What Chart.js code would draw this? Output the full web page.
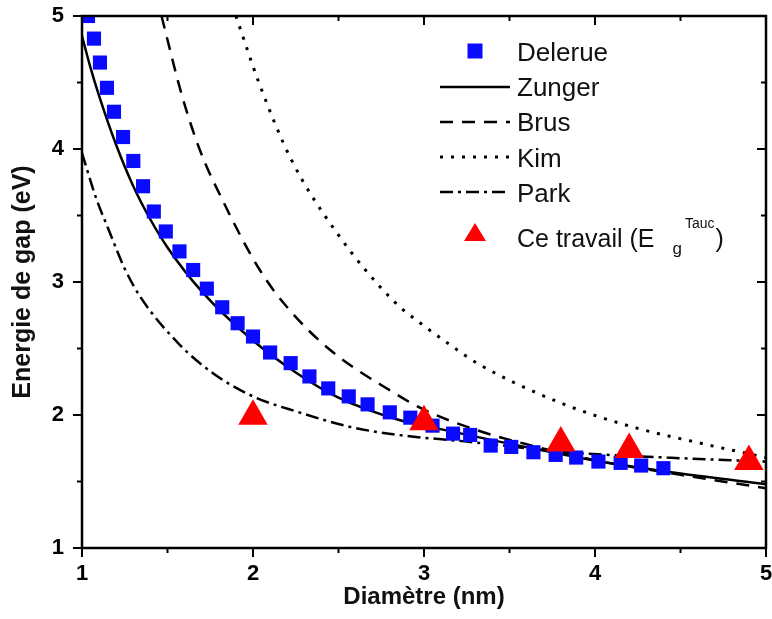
<!DOCTYPE html>
<html><head><meta charset="utf-8">
<script src="https://cdn.jsdelivr.net/npm/chart.js@4.4.1/dist/chart.umd.min.js"></script>
<style>html,body{margin:0;padding:0;background:#fff}#wrap{width:772px;height:619px}</style>
</head><body><div id="wrap"><canvas id="c" width="772" height="619"></canvas></div>
<script>
// ---- data ----
const xTickValues = [1, 1.5, 2, 2.5, 3, 3.5, 4, 4.5, 5];
const yTickValues = [1, 1.5, 2, 2.5, 3, 3.5, 4, 4.5, 5];

const delerueX = [1.035,1.07,1.105,1.146,1.187,1.24,1.30,1.357,1.42,1.49,1.57,1.65,1.73,1.82,1.91,2.0,2.10,2.22,2.33,2.44,2.56,2.67,2.80,2.92,3.05,3.17,3.27,3.39,3.51,3.64,3.77,3.89,4.02,4.15,4.27,4.40];
const delerueY = [5.0,4.83,4.65,4.46,4.28,4.09,3.91,3.72,3.53,3.38,3.23,3.09,2.95,2.81,2.69,2.59,2.47,2.39,2.29,2.20,2.14,2.08,2.02,1.98,1.92,1.86,1.85,1.77,1.76,1.72,1.70,1.68,1.65,1.64,1.62,1.60];

const zungerX = [1.0,1.05,1.1,1.2,1.3,1.4,1.5,1.7,2.0,2.25,2.5,2.86,3.0,3.44,4.03,4.5,5.0];
const zungerY = [4.85,4.61,4.40,4.03,3.72,3.47,3.26,2.93,2.56,2.32,2.13,1.96,1.92,1.80,1.65,1.56,1.48];

const brusX = [1.465,1.585,1.69,1.82,2.04,2.2,2.45,2.82,3.0,3.3,3.6,4.0,4.5,5.0];
const brusY = [5.0,4.40,3.99,3.62,3.09,2.81,2.49,2.17,2.04,1.89,1.78,1.66,1.55,1.45];

const kimX = [1.9,2.04,2.22,2.49,2.82,3.0,3.15,3.31,3.8,4.22,4.61,5.0];
const kimY = [5.0,4.48,3.93,3.37,2.86,2.67,2.53,2.39,2.09,1.91,1.79,1.68];

const parkX = [1.0,1.08,1.16,1.25,1.34,1.57,1.77,2.0,2.27,2.57,2.85,3.25,3.84,4.42,5.0];
const parkY = [3.97,3.64,3.38,3.10,2.89,2.53,2.31,2.14,2.02,1.91,1.85,1.80,1.72,1.68,1.65];

const travailX = [2.0,3.0,3.8,4.2,4.9];
const travailY = [1.99,1.95,1.79,1.74,1.65];

const seriesLabels = ['Delerue','Zunger','Brus','Kim','Park','Ce travail (Eg Tauc)'];
const xTitle = 'Diamètre (nm)';
const yTitle = 'Energie de gap (eV)';

// ---- build ----
const pts = (xs, ys) => xs.map((x, i) => ({x, y: ys[i]}));
const FONT = 'Liberation Sans, Arial, sans-serif';

function lineDs(label, xs, ys, dash, lw) {
  return {label, data: pts(xs, ys), showLine: true, borderColor: '#000', borderWidth: lw || 2.5,
    borderDash: dash, pointRadius: 0, pointHoverRadius: 0, fill: false,
    cubicInterpolationMode: 'monotone', order: 2, legendKind: 'line'};
}

const datasets = [
  {label: seriesLabels[0], data: pts(delerueX, delerueY), pointStyle: 'rect', pointRadius: 10,
   backgroundColor: '#0a0aff', borderColor: '#0a0aff', pointBorderWidth: 0, showLine: false, order: 1,
   clip: 0, legendKind: 'rect'},
  lineDs(seriesLabels[1], zungerX, zungerY, []),
  lineDs(seriesLabels[2], brusX, brusY, [13, 9]),
  lineDs(seriesLabels[3], kimX, kimY, [3, 8], 3),
  lineDs(seriesLabels[4], parkX, parkY, [13, 5, 3, 5]),
  {label: seriesLabels[5], data: pts(travailX, travailY), pointStyle: 'triangle', pointRadius: 17,
   backgroundColor: '#ff0000', borderColor: '#ff0000', pointBorderWidth: 0, showLine: false, order: 0,
   legendKind: 'triangle'}
];

const framePlugin = {
  id: 'frame',
  afterDatasetsDraw(chart) {
    const {ctx, chartArea: a, scales: {x, y}} = chart;
    ctx.save();
    ctx.strokeStyle = '#000';
    ctx.lineWidth = 2.5;
    ctx.strokeRect(a.left, a.top, a.right - a.left, a.bottom - a.top);
    ctx.lineWidth = 2;
    const seg = (x1, y1, x2, y2) => { ctx.beginPath(); ctx.moveTo(x1, y1); ctx.lineTo(x2, y2); ctx.stroke(); };
    xTickValues.forEach(v => {
      const L = Number.isInteger(v) ? 9 : 5;
      const px = x.getPixelForValue(v);
      seg(px, a.bottom, px, a.bottom + L);
      seg(px, a.top, px, a.top + L);
    });
    yTickValues.forEach(v => {
      const L = Number.isInteger(v) ? 9 : 5;
      const py = y.getPixelForValue(v);
      seg(a.left - L, py, a.left, py);
      seg(a.right - L, py, a.right, py);
    });
    ctx.restore();
  }
};

const legendPlugin = {
  id: 'customLegend',
  afterDraw(chart) {
    const ctx = chart.ctx;
    const symX = 475, txtX = 517;
    const rows = [61, 96, 131, 167, 202, 247];
    const symY = [51, 87, 122, 157, 192, 233];
    ctx.save();
    chart.data.datasets.forEach((ds, i) => {
      const sy = symY[i];
      if (ds.legendKind === 'rect') {
        ctx.fillStyle = ds.backgroundColor;
        ctx.fillRect(symX - 7.5, sy - 7.5, 15, 15);
      } else if (ds.legendKind === 'triangle') {
        ctx.fillStyle = ds.backgroundColor;
        ctx.beginPath();
        ctx.moveTo(symX, sy - 10); ctx.lineTo(symX + 11, sy + 8); ctx.lineTo(symX - 11, sy + 8);
        ctx.closePath(); ctx.fill();
      } else {
        ctx.strokeStyle = ds.borderColor; ctx.lineWidth = ds.borderWidth;
        ctx.setLineDash(ds.borderDash || []);
        ctx.beginPath(); ctx.moveTo(440, sy); ctx.lineTo(510, sy); ctx.stroke();
        ctx.setLineDash([]);
      }
      ctx.fillStyle = '#111';
      ctx.textBaseline = 'alphabetic';
      ctx.textAlign = 'left';
      const by = rows[i];
      if (i === 5) {
        ctx.font = '25px ' + FONT;
        const main = 'Ce travail (E';
        ctx.fillText(main, txtX, by);
        let cx = txtX + ctx.measureText(main).width + 18;
        ctx.font = '17px ' + FONT;
        ctx.fillText('g', cx, by + 7);
        cx += ctx.measureText('g').width + 3;
        ctx.font = '14px ' + FONT;
        ctx.fillText('Tauc', cx, by - 19);
        cx += ctx.measureText('Tauc').width + 1;
        ctx.font = '25px ' + FONT;
        ctx.fillText(')', cx, by);
      } else {
        ctx.font = '26px ' + FONT;
        ctx.fillText(ds.label, txtX, by);
      }
    });
    ctx.restore();
  }
};

const tickFont = {family: FONT, size: 22, weight: 'bold'};
function zeroPad(s) { s.paddingTop = 0; s.paddingBottom = 0; s.paddingLeft = 0; s.paddingRight = 0; }

new Chart(document.getElementById('c'), {
  type: 'scatter',
  data: {datasets},
  options: {
    responsive: false,
    devicePixelRatio: 1,
    animation: false,
    layout: {autoPadding: false, padding: {left: 0, top: 16, right: 6, bottom: 0}},
    plugins: {legend: {display: false}, tooltip: {enabled: false}},
    scales: {
      x: {
        type: 'linear', min: 1, max: 5,
        ticks: {stepSize: 1, color: '#000', font: tickFont, padding: 13, maxRotation: 0},
        grid: {display: false, drawTicks: false},
        border: {display: false},
        title: {display: true, text: xTitle, color: '#111', font: {family: FONT, size: 24, weight: 'bold'}, padding: {top: 0, bottom: 7}},
        afterFit(s) { s.height = 71; zeroPad(s); }
      },
      y: {
        type: 'linear', min: 1, max: 5,
        ticks: {stepSize: 1, color: '#000', font: tickFont, padding: 18},
        grid: {display: false, drawTicks: false},
        border: {display: false},
        title: {display: true, text: yTitle, color: '#111', font: {family: FONT, size: 25, weight: 'bold'}, padding: {top: 8, bottom: 0}},
        afterFit(s) { s.width = 82; zeroPad(s); }
      }
    }
  },
  plugins: [framePlugin, legendPlugin]
});
</script>
</body></html>
